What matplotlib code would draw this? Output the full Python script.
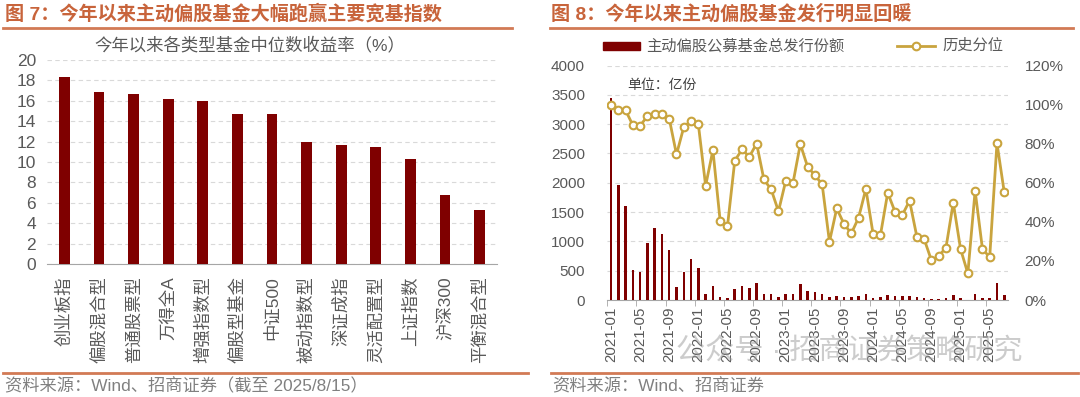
import matplotlib
matplotlib.use("Agg")
import matplotlib.pyplot as plt
from matplotlib.lines import Line2D
from matplotlib.patches import Rectangle
from matplotlib.ticker import FixedLocator

plt.rcParams['font.family'] = ['Liberation Sans', 'Noto Sans CJK SC']

W, H = 1080, 397

# === DATA ===
fund_types = ["创业板指", "偏股混合型", "普通股票型", "万得全A", "增强指数型", "偏股型基金", "中证500",
              "被动指数型", "深证成指", "灵活配置型", "上证指数", "沪深300", "平衡混合型"]
median_ret = [18.3, 16.9, 16.7, 16.2, 16.0, 14.7, 14.7, 12.0, 11.7, 11.5, 10.3, 6.8, 5.3]

months = [f"{y}-{m:02d}" for y in range(2021, 2026) for m in range(1, 13)][:55]
issue_size = [3450, 1960, 1600, 520, 480, 975, 1225, 1130, 860, 225,
              470, 700, 550, 100, 240, 50, 35, 180, 235, 210,
              285, 110, 95, 55, 110, 110, 275, 150, 130, 110,
              57, 62, 45, 45, 62, 100, 34, 45, 85, 62,
              74, 74, 57, 40, 23, 23, 28, 80, 28, 5,
              97, 28, 28, 285, 91]
hist_pct = [100, 97.5, 97.2, 89.5, 89.2, 94.1, 95.1, 95.0, 92.9, 74.5,
            88.5, 91.7, 90.0, 58.5, 76.7, 40.2, 37.8, 71.3, 77.1, 73.3,
            80.1, 61.7, 56.6, 45.4, 61.0, 60.0, 79.8, 68.2, 63.9, 59.2,
            29.8, 46.9, 38.9, 34.1, 42.1, 56.9, 33.6, 33.2, 54.9, 45.2,
            43.5, 50.8, 32.4, 31.2, 20.3, 22.5, 26.8, 49.8, 26.1, 13.6,
            55.9, 26.3, 21.8, 80.3, 55.1]

# === STYLE ===
BAR = "#7F0000"
GOLD = "#C9A43E"
TITLE = "#C8643B"
RULE = "#D27A55"
TXT = "#595959"
GRID = "#D9D9D9"


def fx(x):
    return x / W


def fy(y):
    return 1 - y / H


def box(x0, y0, x1, y1):
    return [fx(x0), fy(y1), fx(x1) - fx(x0), fy(y0) - fy(y1)]


fig = plt.figure(figsize=(W / 100, H / 100), dpi=100)

# headers and footers
fig.text(fx(5), fy(14), "图 7：今年以来主动偏股基金大幅跑赢主要宽基指数", color=TITLE,
         fontsize=13.8, fontweight="bold", va="center", ha="left")
fig.text(fx(551), fy(14), "图 8：今年以来主动偏股基金发行明显回暖", color=TITLE,
         fontsize=13.8, fontweight="bold", va="center", ha="left")
for x0, x1, y in [(3, 512, 28), (550, 1073, 28), (3, 528, 373), (551, 1078, 373)]:
    fig.add_artist(Line2D([fx(x0), fx(x1)], [fy(y), fy(y)], color=RULE, lw=2))
fig.text(fx(5), fy(386), "资料来源：Wind、招商证券（截至 2025/8/15）", color="#808080",
         fontsize=12.4, va="center", ha="left")
fig.text(fx(552), fy(386), "资料来源：Wind、招商证券", color="#808080",
         fontsize=12.4, va="center", ha="left")

# === LEFT CHART ===
ax1 = fig.add_axes(box(47, 60, 497, 264))
ax1.bar(range(len(fund_types)), median_ret, width=0.31, color=BAR, zorder=3)
ax1.set_xlim(-0.5, len(fund_types) - 0.5)
ax1.set_ylim(0, 20)
ax1.set_yticks(range(0, 21, 2))
ax1.set_xticks(range(len(fund_types)))
ax1.set_xticklabels(fund_types, rotation=90, fontsize=12.5, color=TXT, va="top")
ax1.tick_params(axis="x", length=0, pad=9)
ax1.tick_params(axis="y", length=0, labelsize=12.5, labelcolor=TXT, pad=8)
ax1.grid(axis="y", color=GRID, ls=(0, (4, 3)), lw=0.8, zorder=0)
for s in ["top", "right", "left"]:
    ax1.spines[s].set_visible(False)
ax1.spines["bottom"].set_color("#A6A6A6")
fig.text(fx(250), fy(45), "今年以来各类型基金中位数收益率（%）", fontsize=12.5, color=TXT,
         ha="center", va="center")

# === RIGHT CHART ===
n = len(months)
ax2 = fig.add_axes(box(607.3, 65.6, 1007.9, 300))
ax2.bar(range(n), issue_size, width=0.35, color=BAR, zorder=3)
ax2.set_xlim(-0.5, n - 0.5)
ax2.set_ylim(0, 4000)
ax2.set_yticks(range(0, 4001, 500))
ax2.tick_params(axis="y", length=0, labelsize=11, labelcolor=TXT, pad=16)
ax2.grid(axis="y", color=GRID, ls=(0, (4, 3)), lw=0.8, zorder=0)
ax2.set_xticks(range(0, n, 4))
ax2.set_xticklabels(months[::4], rotation=90, fontsize=10.8, color=TXT)
ax2.xaxis.set_minor_locator(FixedLocator([i - 0.5 for i in range(0, n, 4)]))
ax2.tick_params(axis="x", which="major", length=0, pad=5)
ax2.tick_params(axis="x", which="minor", length=4, color="#A6A6A6")
for s in ["top", "right", "left"]:
    ax2.spines[s].set_visible(False)
ax2.spines["bottom"].set_color("#A6A6A6")

ax3 = ax2.twinx()
ax3.plot(range(n), hist_pct, color=GOLD, lw=2, marker="o", ms=5.5,
         mfc="white", mec=GOLD, mew=1.5, zorder=4)
ax3.set_ylim(0, 120)
ax3.set_yticks(range(0, 121, 20))
ax3.set_yticklabels([f"{v}%" for v in range(0, 121, 20)])
ax3.tick_params(axis="y", length=0, labelsize=11, labelcolor=TXT, pad=12)
for s in ["top", "right", "left", "bottom"]:
    ax3.spines[s].set_visible(False)

fig.text(fx(627), fy(85), "单位：亿份", fontsize=10, color="#404040", va="center", ha="left")

# legend drawn by hand
fig.add_artist(Rectangle((fx(603), fy(50)), fx(37), fy(42) - fy(50),
                         transform=fig.transFigure, color=BAR))
fig.text(fx(646), fy(46), "主动偏股公募基金总发行份额", fontsize=11, color=TXT, va="center")
fig.add_artist(Line2D([fx(897), fx(935)], [fy(46), fy(46)], color=GOLD, lw=2,
                      transform=fig.transFigure))
fig.add_artist(Line2D([fx(916)], [fy(46)], color=GOLD, marker="o", ms=5.5,
                      mfc="white", mec=GOLD, mew=1.5, transform=fig.transFigure))
fig.text(fx(942), fy(46), "历史分位", fontsize=11, color=TXT, va="center")

# watermark
fig.text(fx(676), fy(352), "公众号 · 招商证券策略研究", fontsize=21, color="#9A9A9A",
         alpha=0.5, va="center", ha="left", zorder=10)

fig.savefig("out.png", dpi=100)
